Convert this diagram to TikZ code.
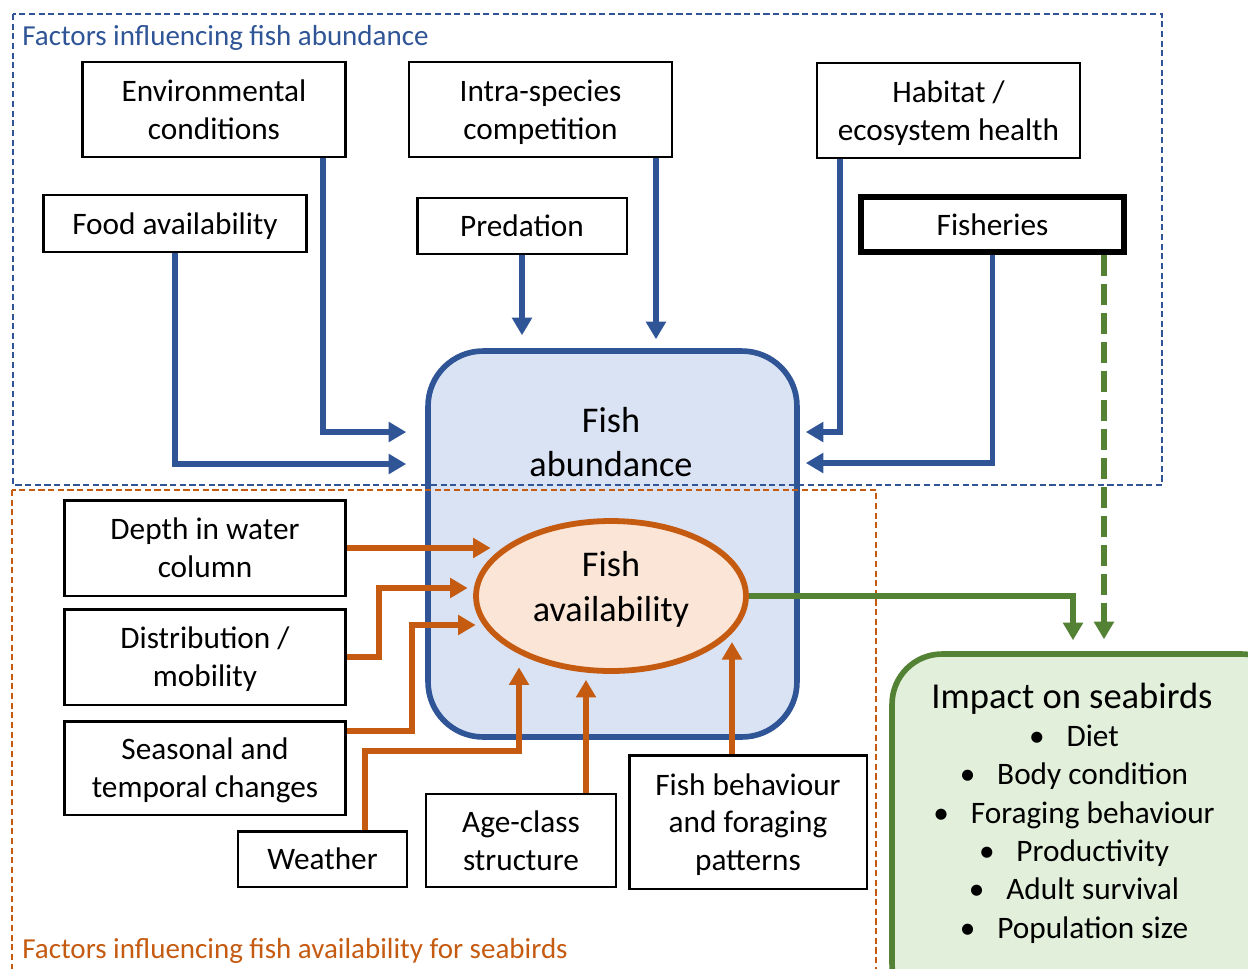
\documentclass[tikz,border=0pt]{standalone}
\usepackage{fontspec}
\setmainfont{Carlito}
\usetikzlibrary{arrows.meta,shapes.geometric}
\definecolor{abBlue}{HTML}{2F5597}
\definecolor{abFill}{HTML}{DAE3F3}
\definecolor{avOrange}{HTML}{C55A11}
\definecolor{avFill}{HTML}{FBE5D6}
\definecolor{sbGreen}{HTML}{548235}
\definecolor{sbFill}{HTML}{E2EFDA}
\tikzset{
  factor/.style={draw=black, line width=1.4pt, align=center, inner sep=0pt, font=\fontsize{17.8}{21.5}\selectfont},
  blueflow/.style={draw=abBlue, line width=3.3pt, -{Triangle[width=11pt,length=10pt]}},
  orangeflow/.style={draw=avOrange, line width=3.3pt, -{Triangle[width=11pt,length=10pt]}},
  greenflow/.style={draw=sbGreen, line width=3pt, -{Triangle[width=11pt,length=10pt]}},
  frame/.style={line width=0.8pt, dash pattern=on 3.5pt off 2pt}
}
\begin{document}
\begin{tikzpicture}[x=0.02cm, y=-0.02cm]
\useasboundingbox (0,0) rectangle (1248,968);
% fish abundance
\node[draw=abBlue, fill=abFill, line width=3.2pt, rounded corners=1.1cm, minimum width=7.38cm, minimum height=7.72cm] (abund) at (612.5,544) {};
\node[font=\fontsize{20.6}{25.5}\selectfont, align=center] (abundlbl) at (611,442) {Fish\\abundance};
% frames
\draw[frame, abBlue] (13,14) rectangle (1162,485);
\draw[frame, avOrange] (12,490) rectangle (876,1000);
\node[abBlue, anchor=west, inner sep=0pt, font=\fontsize{16.5}{20}\selectfont] (abundtitle) at (22,38) {Factors influencing fish abundance};
\node[avOrange, anchor=west, inner sep=0pt, font=\fontsize{16.5}{20}\selectfont] (availtitle) at (22,951) {Factors influencing fish availability for seabirds};
% abundance factors
\node[factor, minimum width=5.27cm, minimum height=1.89cm] (env) at (214,109.5) {Environmental\\conditions};
\node[factor, minimum width=5.27cm, minimum height=1.89cm] (intra) at (540.5,109.5) {Intra-species\\\smash{competition}};
\node[factor, minimum width=5.27cm, minimum height=1.89cm] (hab) at (948.5,110.5) {Habitat /\\\smash{ecosystem health}};
\node[factor, text depth=0pt, minimum width=5.27cm, minimum height=1.14cm] (food) at (175,223.5) {Food availability};
\node[factor, minimum width=4.19cm, minimum height=1.12cm] (pred) at (522,226) {Predation};
\node[factor, line width=3.4pt, minimum width=5.26cm, minimum height=1.1cm] (fish) at (992.5,224.5) {Fisheries};
% availability
\node[ellipse, draw=avOrange, fill=avFill, line width=3.3pt, minimum width=5.4cm, minimum height=3cm] (avail) at (611,596) {};
\node[font=\fontsize{20.6}{25.5}\selectfont, align=center] (availlbl) at (611,589) {Fish\\availability};
\node[factor, minimum width=5.63cm, minimum height=1.91cm] (depth) at (205,548) {Depth in water\\column};
\node[factor, minimum width=5.63cm, minimum height=1.91cm] (dist) at (205,657) {Distribution /\\\smash{mobility}};
\node[factor, minimum width=5.63cm, minimum height=1.87cm] (season) at (205,768) {Seasonal and\\\smash{temporal changes}};
\node[factor, minimum width=3.37cm, minimum height=1.11cm] (weather) at (322.5,859) {Weather};
\node[factor, minimum width=3.8cm, minimum height=1.87cm] (age) at (521,840.5) {Age-class\\structure};
\node[factor, minimum width=4.75cm, minimum height=2.67cm] (behav) at (748,822) {Fish behaviour\\and foraging\\\smash{patterns}};
% seabirds
\node[draw=sbGreen, fill=sbFill, line width=3.2pt, rounded corners=1cm, minimum width=8cm, minimum height=7.2cm] (impact) at (1092,834) {};
\node[font=\fontsize{20.8}{25}\selectfont] (impacttitle) at (1072,699) {Impact on seabirds};
\node[align=center, font=\fontsize{17.8}{21.8}\selectfont] (impactlist) at (1074,834) {\textbullet\hspace{0.7em}Diet\\\textbullet\hspace{0.7em}Body condition\\\textbullet\hspace{0.7em}Foraging behaviour\\\textbullet\hspace{0.7em}Productivity\\\textbullet\hspace{0.7em}Adult survival\\\textbullet\hspace{0.7em}Population size};
% blue arrows
\draw[blueflow, shorten >=0.38cm] ([xshift=2.18cm]env.south) |- ([yshift=2.24cm]abund.west);
\draw[blueflow, shorten >=0.38cm] (food.south) |- ([yshift=1.6cm]abund.west);
\draw[blueflow, shorten >=0.26cm] (pred.south) -- (pred.south |- abund.north);
\draw[blueflow, shorten >=0.18cm] ([xshift=2.31cm]intra.south) -- ([xshift=2.31cm]intra.south |- abund.north);
\draw[blueflow, shorten >=0.12cm] ([xshift=-2.17cm]hab.south) |- ([yshift=2.24cm]abund.east);
\draw[blueflow, shorten >=0.12cm] (fish.south) |- ([yshift=1.62cm]abund.east);
% green arrows
\draw[greenflow, line width=3.4pt, dash pattern=on 12pt off 4.5pt, shorten >=0.24cm] ([xshift=2.23cm]fish.south) -- ([xshift=2.23cm]fish.south |- impact.north);
\draw[greenflow, shorten >=0.22cm] (avail.east) -| ([xshift=-0.38cm]impact.north);
% orange arrows
\draw[orangeflow] (depth.east) -- ([xshift=0.35cm]depth.east -| avail.west);
\draw[orangeflow] (dist.east) -- ++(32,0) |- ([xshift=-0.11cm,yshift=0.16cm]avail.west);
\draw[orangeflow] ([yshift=0.74cm]season.east) -- ++(65,0) |- ([xshift=0.05cm,yshift=-0.58cm]avail.west);
\draw[orangeflow] ([xshift=0.85cm]weather.north) -- ++(0,-79) -| ([xshift=-1.84cm,yshift=0.13cm]avail.south);
\draw[orangeflow, shorten >=0.12cm] ([xshift=1.3cm]age.north) -- ([xshift=1.3cm]age.north |- avail.south);
\draw[orangeflow, shorten >=0.92cm] ([xshift=-0.32cm]behav.north) -- ([xshift=-0.32cm]behav.north |- avail.east);
\end{tikzpicture}
\end{document}
